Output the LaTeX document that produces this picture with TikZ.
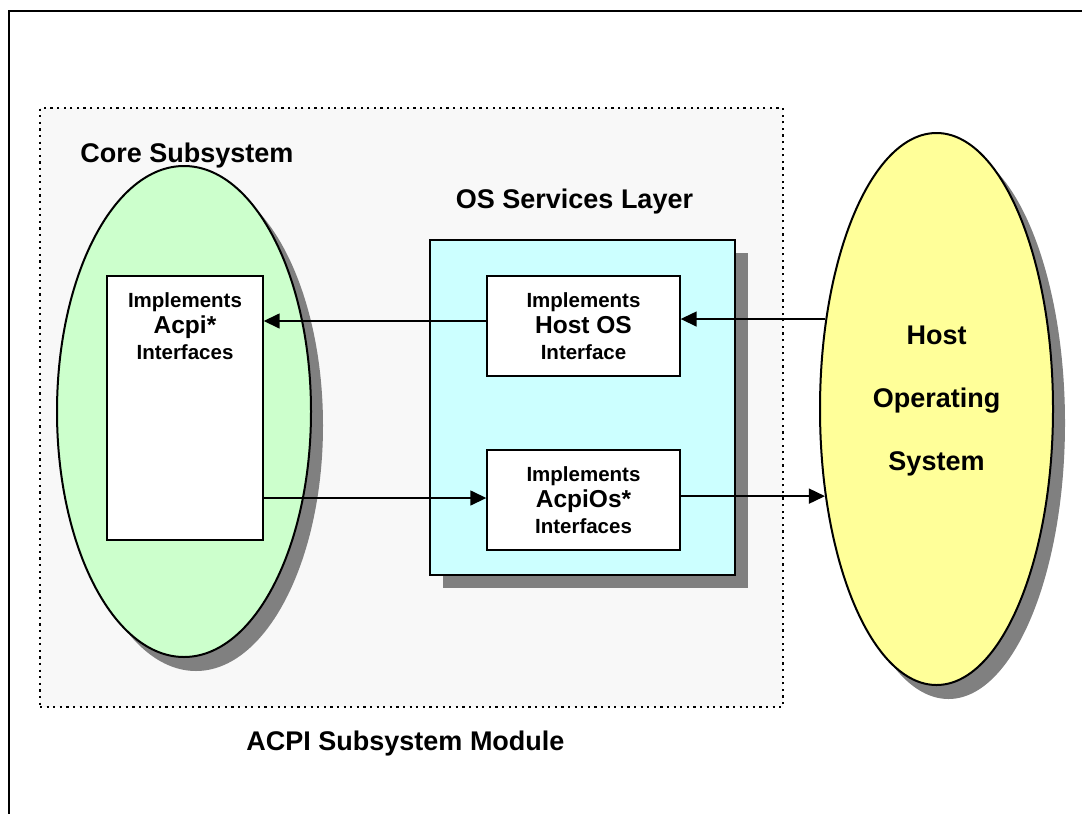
\documentclass[tikz,border=0pt]{standalone}
\usepackage{fontspec}
\setmainfont{Liberation Sans}
\usetikzlibrary{shapes.geometric}
\usetikzlibrary{shadows}
\usetikzlibrary{arrows.meta}

\definecolor{coregreen}{HTML}{CCFFCC}
\definecolor{hostyellow}{HTML}{FFFF99}
\definecolor{layercyan}{HTML}{CCFFFF}
\definecolor{modgray}{HTML}{F8F8F8}
\definecolor{shadowgray}{HTML}{808080}

\tikzset{
  shadebox/.style={drop shadow={shadow xshift=13pt, shadow yshift=-13pt, fill=shadowgray, opacity=1}},
  blob/.style={ellipse, draw, line width=2pt, inner sep=0pt,
    drop shadow={shadow xshift=12pt, shadow yshift=-14pt, fill=shadowgray, opacity=1}},
  implbox/.style={rectangle, draw, fill=white, line width=1.4pt, inner sep=0pt},
  arr/.style={line width=1.5pt, -{Triangle[length=16pt,width=15pt]}},
  title/.style={font=\fontsize{27}{30}\selectfont\bfseries, anchor=base},
  impltext/.style={font=\fontsize{20.5}{26}\selectfont\bfseries, align=center},
}
\newcommand{\bigline}[1]{{\fontsize{24.5}{26}\selectfont #1}}

\begin{document}
\begin{tikzpicture}[x=1pt, y=-1pt]
    \useasboundingbox (0,0) rectangle (1082,814);

    % page frame
    \draw[line width=2.5pt] (1082,11) -- (9,11) -- (9,814);

    \node[rectangle, draw, fill=modgray, line width=2.5pt, dash pattern=on 2.2pt off 4.4pt,
      minimum width=743pt, minimum height=599pt] (module) at (411.5,407.5) {};

    \node[blob, fill=coregreen, minimum width=254pt, minimum height=491pt] (core) at (184,411.5) {};
    \node[rectangle, draw, fill=layercyan, line width=1.4pt, shadebox,
      minimum width=305pt, minimum height=335pt] (layer) at (582.5,407.5) {};
    \node[blob, fill=hostyellow, minimum width=233pt, minimum height=552pt] (hostos) at (936.5,409) {};

    \node[implbox, minimum width=156pt, minimum height=264pt] (acpi) at (185,408) {};
    \node[implbox, impltext, minimum width=193pt, minimum height=100pt] (host) at (583.5,326)
      {Implements\\\bigline{Host OS}\\Interface};
    \node[implbox, impltext, minimum width=193pt, minimum height=100pt] (acpios) at (583.5,500)
      {Implements\\\bigline{AcpiOs*}\\Interfaces};
    \node[impltext] (acpitext) at (acpi |- host) {Implements\\\bigline{Acpi*}\\Interfaces};

    \draw[arr] ([yshift=5pt]host.west) -- ([yshift=5pt]host.west -| acpi.east);
    \draw[arr] ([yshift=2pt]acpios.west -| acpi.east) -- ([yshift=2pt]acpios.west);
    \draw[arr] (hostos.141.5) -- (hostos.141.5 -| host.east);
    \draw[arr] (hostos.218.8 -| acpios.east) -- (hostos.218.8);

    \node[title] (coretitle) at ([xshift=3pt,yshift=3pt]core.north) {Core Subsystem};
    \node[title] (layertitle) at ([xshift=-8pt,yshift=31pt]layer.north) {OS Services Layer};
    \node[title] (moduletitle) at ([xshift=-6pt,yshift=-42pt]module.south) {ACPI Subsystem Module};
    \node[align=center, font=\fontsize{27}{63}\selectfont\bfseries] (hostostext)
      at ([yshift=8pt]hostos.center) {Host\\Operating\\System};
\end{tikzpicture}
\end{document}
